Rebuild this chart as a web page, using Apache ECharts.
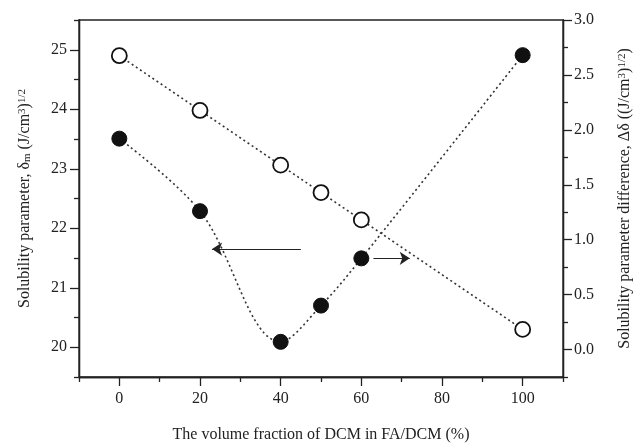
<!DOCTYPE html>
<html>
<head>
<meta charset="utf-8">
<script src="https://cdn.jsdelivr.net/npm/echarts@6/dist/echarts.min.js"></script>
<style>
  html, body { margin: 0; padding: 0; background: #fff; }
  #main { width: 635px; height: 444px; }
</style>
</head>
<body>
<div id="main"></div>
<script>
// values
var dcmFraction = [0, 20, 40, 50, 60, 100];
var deltaM = [24.9, 23.98, 23.06, 22.6, 22.14, 20.3];      // open circles, left axis
var deltaDiff = [1.92, 1.26, 0.07, 0.40, 0.83, 2.68];      // filled circles, right axis

var xTicks = [0, 20, 40, 60, 80, 100];
var xMinor = [-10, 10, 30, 50, 70, 90, 110];
var leftTicks = [20, 21, 22, 23, 24, 25];
var leftMinor = [19.5, 20.5, 21.5, 22.5, 23.5, 24.5, 25.5];
var rightTicks = [0, 0.5, 1.0, 1.5, 2.0, 2.5, 3.0];
var rightMinor = [-0.25, 0.25, 0.75, 1.25, 1.75, 2.25, 2.75];

// arrows pointing to the axis each series belongs to
var leftArrow = [[45, 21.65], [23, 21.65]];
var rightArrow = [[63, 0.83], [72, 0.83]];

var ink = '#222';
var font = 'Liberation Serif';

function pairs(xs, ys) {
  return xs.map(function (x, i) { return [x, ys[i]]; });
}

var nameRich = {
  sup: { fontSize: 11, fontFamily: font, color: ink, verticalAlign: 'top', lineHeight: 12 },
  sub: { fontSize: 11, fontFamily: font, color: ink, verticalAlign: 'bottom', lineHeight: 12 }
};

function axisBase(extra) {
  var base = {
    axisLine: { show: true, onZero: false, lineStyle: { color: ink, width: 1.3 } },
    splitLine: { show: false },
    axisLabel: { show: false },
    axisTick: { show: false }
  };
  return Object.assign(base, extra);
}

var chart = echarts.init(document.getElementById('main'));
chart.setOption({
  animation: false,
  backgroundColor: '#fff',
  grid: {
    left: 79, right: 72, top: 20, bottom: 67,
    show: true, borderColor: ink, borderWidth: 1.3,
    outerBoundsMode: 'none'
  },
  xAxis: [
    axisBase({
      type: 'value', min: -10, max: 110, position: 'bottom',
      name: 'The volume fraction of DCM in FA/DCM (%)',
      nameLocation: 'middle', nameGap: 50,
      nameTextStyle: { fontFamily: font, fontSize: 16, color: ink },
      axisTick: { show: true, inside: false, length: 9, customValues: xTicks, lineStyle: { color: ink, width: 1.3 } },
      axisLabel: { show: true, margin: 14, customValues: xTicks, fontFamily: font, fontSize: 16, color: ink }
    }),
    axisBase({
      type: 'value', min: -10, max: 110, position: 'bottom',
      axisTick: { show: true, length: 5, customValues: xMinor, lineStyle: { color: ink, width: 1.3 } }
    })
  ],
  yAxis: [
    axisBase({
      type: 'value', min: 19.5, max: 25.5, position: 'left',
      name: 'Solubility parameter, δ{sub|m} (J/cm{sup|3}){sup|1/2}',
      nameLocation: 'middle', nameGap: 46,
      nameTextStyle: { fontFamily: font, fontSize: 16, color: ink, rich: nameRich },
      axisTick: { show: true, length: 9, customValues: leftTicks, lineStyle: { color: ink, width: 1.3 } },
      axisLabel: { show: true, margin: 12, customValues: leftTicks, fontFamily: font, fontSize: 16, color: ink }
    }),
    axisBase({
      type: 'value', min: -0.25, max: 3.0, position: 'right',
      name: 'Solubility parameter difference, Δδ ((J/cm{sup|3}){sup|1/2})',
      nameLocation: 'middle', nameGap: 54, nameRotate: 90,
      nameTextStyle: { fontFamily: font, fontSize: 16, color: ink, rich: nameRich },
      axisTick: { show: true, length: 9, customValues: rightTicks, lineStyle: { color: ink, width: 1.3 } },
      axisLabel: {
        show: true, margin: 11, customValues: rightTicks, fontFamily: font, fontSize: 16, color: ink,
        formatter: function (v) { return v.toFixed(1); }
      }
    }),
    axisBase({
      type: 'value', min: 19.5, max: 25.5, position: 'left',
      axisTick: { show: true, length: 5, customValues: leftMinor, lineStyle: { color: ink, width: 1.3 } }
    }),
    axisBase({
      type: 'value', min: -0.25, max: 3.0, position: 'right',
      axisTick: { show: true, length: 5, customValues: rightMinor, lineStyle: { color: ink, width: 1.3 } }
    })
  ],
  series: [
    {
      name: 'delta_m',
      type: 'line',
      xAxisIndex: 0, yAxisIndex: 0,
      data: pairs(dcmFraction, deltaM),
      symbol: 'circle', symbolSize: 15,
      itemStyle: { color: '#fff', borderColor: '#111', borderWidth: 1.8 },
      lineStyle: { color: '#333', width: 1.6, type: [2, 3] },
      z: 3,
      markLine: {
        silent: true,
        symbol: ['none', 'arrow'], symbolSize: [10, 10],
        label: { show: false },
        lineStyle: { color: ink, width: 1.2, type: 'solid' },
        data: [[{ coord: leftArrow[0] }, { coord: leftArrow[1] }]]
      }
    },
    {
      name: 'delta_diff',
      type: 'line',
      xAxisIndex: 0, yAxisIndex: 1,
      data: pairs(dcmFraction, deltaDiff),
      smooth: 0.35,
      symbol: 'circle', symbolSize: 15,
      itemStyle: { color: '#111', borderColor: '#111', borderWidth: 1 },
      lineStyle: { color: '#333', width: 1.6, type: [2, 3] },
      z: 3,
      markLine: {
        silent: true,
        symbol: ['none', 'arrow'], symbolSize: [10, 10],
        label: { show: false },
        lineStyle: { color: ink, width: 1.2, type: 'solid' },
        data: [[{ coord: rightArrow[0] }, { coord: rightArrow[1] }]]
      }
    }
  ]
});
</script>
</body>
</html>
